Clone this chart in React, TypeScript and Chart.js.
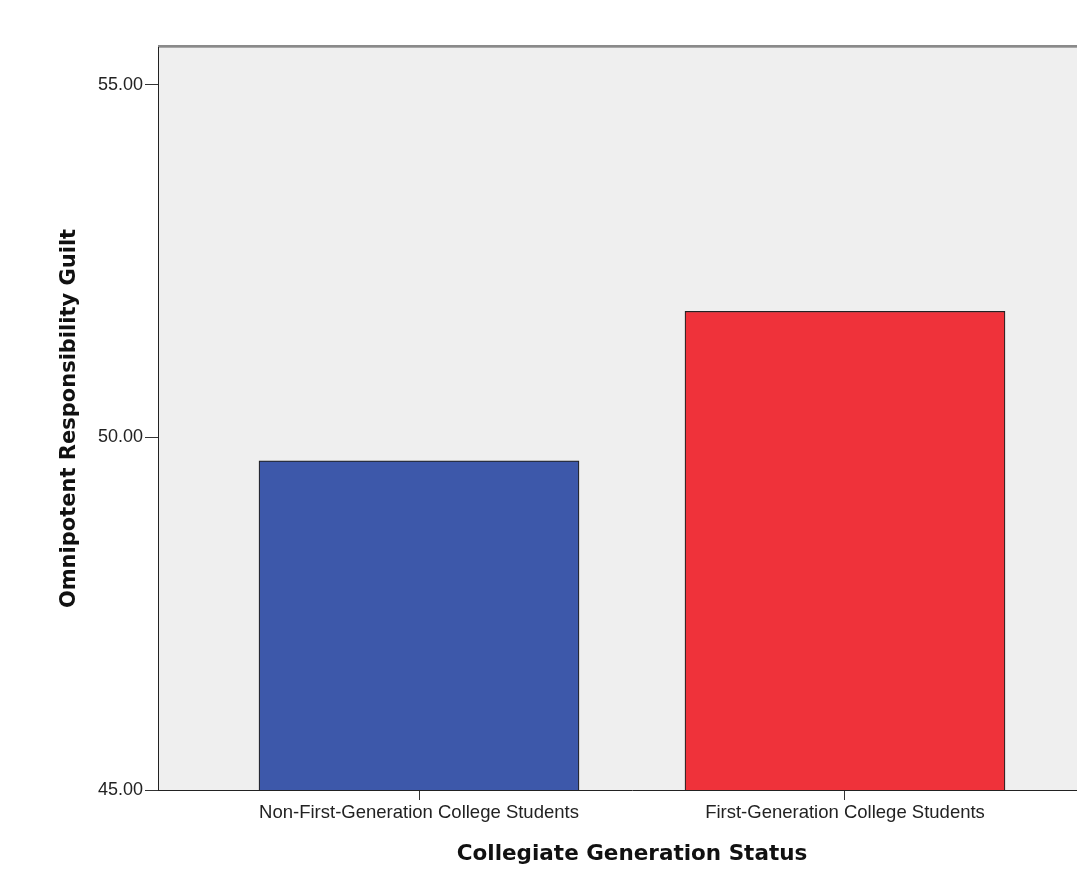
import React, { useEffect, useRef } from "react";
import { Chart, registerables } from "chart.js";

Chart.register(...registerables);

const categories = ["Non-First-Generation College Students", "First-Generation College Students"];
const meanValues = [49.67, 51.79];
const barColors = ["#3d58aa", "#ef323a"];
const yTickValues = [45, 50, 55];
const xTitle = "Collegiate Generation Status";
const yTitle = "Omnipotent Responsibility Guilt";

const plotBg = {
  id: "plotBg",
  beforeDraw(chart: any) {
    const { ctx, chartArea, width, height } = chart;
    ctx.save();
    ctx.fillStyle = "#ffffff";
    ctx.fillRect(0, 0, width, height);
    ctx.fillStyle = "#efefef";
    ctx.fillRect(chartArea.left, chartArea.top, chartArea.right - chartArea.left, chartArea.bottom - chartArea.top);
    ctx.fillStyle = "#8a8a8a";
    ctx.fillRect(chartArea.left, chartArea.top - 2, chartArea.right - chartArea.left, 2);
    ctx.fillStyle = "#a8a8a8";
    ctx.fillRect(chartArea.left, chartArea.top, chartArea.right - chartArea.left, 1);
    ctx.restore();
  },
};

export default function App() {
  const ref = useRef<HTMLCanvasElement | null>(null);
  useEffect(() => {
    if (!ref.current) return;
    const chart = new Chart(ref.current, {
      type: "bar",
      data: {
        datasets: [
          {
            data: meanValues.map((v, i) => ({ x: i, y: v })),
            backgroundColor: barColors,
            borderColor: "#222222",
            borderWidth: 1.2,
            barThickness: 320,
            grouped: false,
          } as any,
        ],
      },
      plugins: [plotBg],
      options: {
        animation: false,
        responsive: true,
        maintainAspectRatio: false,
        devicePixelRatio: 1,
        layout: { padding: { top: 47, right: 4, left: 0, bottom: 0 } },
        plugins: { legend: { display: false }, tooltip: { enabled: false } },
        scales: {
          x: {
            type: "linear",
            offset: false,
            min: -0.6127,
            max: 1.6127,
            afterBuildTicks: (scale: any) => {
              scale.ticks = categories.map((_, i) => ({ value: i }));
            },
            afterFit: (scale: any) => {
              scale.height = 89;
            },
            grid: { offset: false, drawOnChartArea: false, drawTicks: true, tickLength: 10, tickColor: "#333333", lineWidth: 1 },
            border: { display: true, color: "#222222", width: 1 },
            ticks: {
              autoSkip: false,
              maxRotation: 0,
              padding: 2,
              color: "#222222",
              font: { family: "'Liberation Sans', Arial, sans-serif", size: 18.5 },
              callback: (v: any) => categories[Math.round(Number(v))] ?? "",
            },
            title: {
              display: true,
              text: xTitle,
              color: "#111111",
              font: { family: "'DejaVu Sans', sans-serif", size: 21.5, weight: "bold" },
              padding: { top: 0, bottom: 12 },
            },
          },
          y: {
            type: "linear",
            min: 45,
            max: 55.539,
            afterBuildTicks: (scale: any) => {
              scale.ticks = yTickValues.map((v) => ({ value: v }));
            },
            afterFit: (scale: any) => {
              scale.width = 158;
            },
            grid: { drawOnChartArea: false, drawTicks: true, tickLength: 13, tickColor: "#333333", lineWidth: 1 },
            border: { display: true, color: "#222222", width: 1 },
            ticks: {
              padding: 2,
              color: "#222222",
              font: { family: "'Liberation Sans', Arial, sans-serif", size: 18 },
              callback: (v: any) => Number(v).toFixed(2),
            },
            title: {
              display: true,
              text: yTitle,
              color: "#111111",
              font: { family: "'DejaVu Sans', sans-serif", size: 21, weight: "bold" },
              padding: { top: 57, bottom: 0 },
            },
          },
        },
      } as any,
    });
    return () => chart.destroy();
  }, []);
  return (
    <div style={{ position: "fixed", left: 0, top: 0, width: 1077, height: 879, overflow: "hidden", background: "#fff" }}>
      <div style={{ position: "absolute", left: 0, top: 0, width: 1110, height: 879 }}>
        <canvas ref={ref} />
      </div>
    </div>
  );
}
